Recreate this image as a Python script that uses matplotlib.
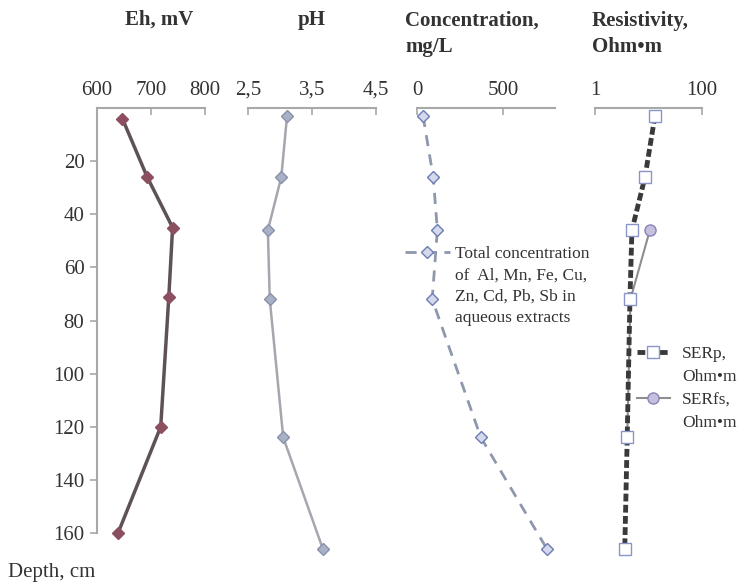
import matplotlib
matplotlib.use('Agg')
import matplotlib.pyplot as plt
from matplotlib.lines import Line2D
from matplotlib.ticker import FixedLocator, FixedFormatter, NullLocator

plt.rcParams['font.family'] = ['Liberation Serif', 'DejaVu Serif']

# data
eh_depth = [4, 26, 45, 71, 120, 160]
eh_mv = [647, 693, 740, 733, 718, 639]

ph_depth = [3, 26, 46, 72, 124, 166]
ph_val = [3.11, 3.02, 2.81, 2.84, 3.05, 3.67]

conc_depth = [3, 26, 46, 72, 124, 166]
conc_val = [35, 94, 118, 88, 370, 753]

serp_depth = [3, 26, 46, 72, 124, 166]
serp_val = [13.2, 8.6, 4.9, 4.5, 4.0, 3.6]

serfs_depth = [46, 72, 124]
serfs_val = [10.6, 4.6, 4.0]

depth_ticks = [20, 40, 60, 80, 100, 120, 140, 160]

fig = plt.figure(figsize=(7.42, 5.85), dpi=100)
W, H = 742, 585
top, bot = 108, 533

def make_ax(x0, x1):
    ax = fig.add_axes([x0 / W, 1 - bot / H, (x1 - x0) / W, (bot - top) / H])
    ax.set_ylim(160, 0)
    ax.xaxis.tick_top()
    for s in ['left', 'right', 'bottom']:
        ax.spines[s].set_visible(False)
    ax.spines['top'].set_color('#a8a8a8')
    ax.spines['top'].set_linewidth(1.5)
    ax.tick_params(axis='x', direction='in', length=5, width=1.2, color='#a8a8a8',
                   labelsize=15, pad=6, labelcolor='#333333')
    ax.yaxis.set_major_locator(NullLocator())
    ax.patch.set_alpha(0)
    return ax

ax1 = make_ax(97, 205)
ax2 = make_ax(248, 376)
ax3 = make_ax(417, 555)
ax4 = make_ax(595, 702)

# depth axis on first panel
ax1.spines['left'].set_visible(True)
ax1.spines['left'].set_color('#a8a8a8')
ax1.spines['left'].set_linewidth(1.5)
ax1.yaxis.set_major_locator(FixedLocator(depth_ticks))
ax1.tick_params(axis='y', direction='out', length=5, width=1.2, color='#a8a8a8',
                labelsize=15, pad=4, labelcolor='#333333')

# Eh
ax1.plot(eh_mv, eh_depth, color='#5e5256', lw=2.5, marker='D', ms=6.5,
         mfc='#8b4f5f', mec='#8b4f5f', clip_on=False, zorder=5)
ax1.set_xlim(600, 800)
ax1.xaxis.set_major_locator(FixedLocator([600, 700, 800]))

# pH
ax2.plot(ph_val, ph_depth, color='#a6a7ae', lw=1.8, marker='D', ms=6.5,
         mfc='#a9b1c6', mec='#8a92ab', clip_on=False, zorder=5)
ax2.set_xlim(2.5, 4.5)
ax2.xaxis.set_major_locator(FixedLocator([2.5, 3.5, 4.5]))
ax2.xaxis.set_major_formatter(FixedFormatter(['2,5', '3,5', '4,5']))

# concentration
l3, = ax3.plot(conc_val, conc_depth, color='#8e98ac', lw=2, dashes=(4, 3),
               marker='D', ms=6, mfc='#d4d9ec', mec='#6c7cb4', clip_on=False, zorder=5)
ax3.set_xlim(0, 800)
ax3.xaxis.set_major_locator(FixedLocator([0, 500]))
blank = Line2D([], [], linestyle='none')
ax3.legend([l3, blank, blank, blank],
           ['Total concentration', 'of  Al, Mn, Fe, Cu,', 'Zn, Cd, Pb, Sb in', 'aqueous extracts'],
           loc='upper left', bbox_to_anchor=(-0.09, 0.675), frameon=False,
           fontsize=12.5, borderpad=0, borderaxespad=0, labelspacing=0.3,
           handlelength=2.6, handletextpad=0.3, labelcolor='#333333')

# resistivity
ax4.set_xscale('log')
ax4.set_xlim(1, 100)
l4, = ax4.plot(serp_val, serp_depth, color='#3a3a3a', lw=3.5, dashes=(1.6, 0.7),
               marker='s', ms=9, mfc='white', mec='#8a94c8', clip_on=False, zorder=6)
l5, = ax4.plot(serfs_val, serfs_depth, color='#8e8e8e', lw=1.5,
               marker='o', ms=8, mfc='#c6c0de', mec='#8b80b8', clip_on=False, zorder=5)
ax4.xaxis.set_major_locator(FixedLocator([1, 100]))
ax4.xaxis.set_major_formatter(FixedFormatter(['1', '100']))
ax4.xaxis.set_minor_locator(NullLocator())
ax4.legend([l4, blank, l5, blank], ['SERp,', 'Ohm•m', 'SERfs,', 'Ohm•m'],
           loc='upper left', bbox_to_anchor=(0.39, 0.44), frameon=False,
           fontsize=12.5, borderpad=0, borderaxespad=0, labelspacing=0.4,
           handlelength=1.9, handletextpad=0.7, labelcolor='#333333')

# panel titles
tkw = dict(fontsize=15, fontweight='bold', color='#333333', va='center')
fig.text(159 / W, 1 - 20 / H, 'Eh, mV', ha='center', **tkw)
fig.text(312 / W, 1 - 20 / H, 'pH', ha='center', **tkw)
fig.text(405 / W, 1 - 34 / H, 'Concentration,\nmg/L', ha='left', linespacing=1.45, **tkw)
fig.text(592 / W, 1 - 34 / H, 'Resistivity,\nOhm•m', ha='left', linespacing=1.45, **tkw)
fig.text(8 / W, 1 - 572 / H, 'Depth, cm', ha='left', va='center', fontsize=15, color='#333333')

fig.savefig('out.png', dpi=100)
